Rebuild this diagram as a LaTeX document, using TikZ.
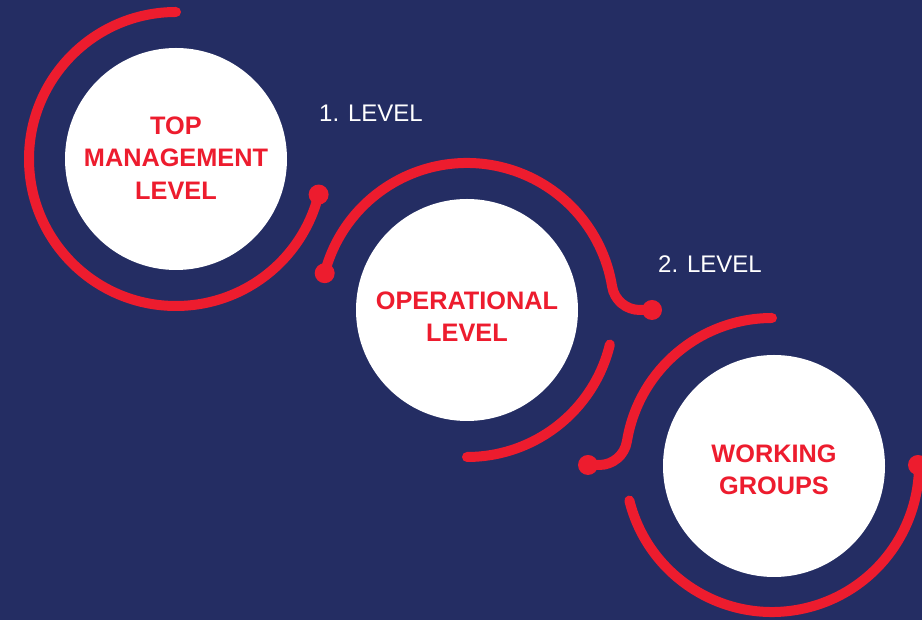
\documentclass[tikz,border=0pt]{standalone}
\usepackage{fontspec}
\setmainfont{Liberation Sans}
\usetikzlibrary{calc}
\definecolor{navy}{RGB}{36,45,99}
\definecolor{hred}{RGB}{237,28,46}
\begin{document}
\begin{tikzpicture}[x=1pt,y=1pt,
  disc/.style={circle, fill=white, minimum size=222pt, inner sep=0pt},
  lbl/.style={text=hred, font=\bfseries\fontsize{25.3}{32.5}\selectfont, align=center, inner sep=0pt},
  ring/.style={draw=hred, line width=10pt, line cap=round},
  dotmark/.style={circle, fill=hred, minimum size=20pt, inner sep=0pt},
  lvl/.style={text=white, font=\fontsize{24}{28}\selectfont, anchor=base west, inner sep=0pt}]
\fill[navy] (0,0) rectangle (922,620);
\useasboundingbox (0,0) rectangle (922,620);

% discs
\node[disc] (c1) at (176,461) {};
\node[disc] (c2) at (467,310) {};
\node[disc] (c3) at (774,154) {};
\coordinate (a3) at (772,155);

% labels
\node[lbl] (t1) at ([yshift=1]c1) {TOP\\MANAGEMENT\\LEVEL};
\node[lbl] (t2) at ([yshift=-6.5]c2) {OPERATIONAL\\LEVEL};
\node[lbl] (t3) at ([yshift=-4]c3) {WORKING\\GROUPS};
\node[lvl] (l1) at (319,498) {1. LEVEL};
\node[lvl] (l2) at (658,347) {2. LEVEL};

% dots
\node[dotmark] (d1) at ($(c1)+(346:147)$) {};
\node[dotmark] (d2) at ($(c2)+(165.5:147)$) {};
\node[dotmark] (d3) at (652,310) {};
\node[dotmark] (d4) at (588,155) {};
\node[dotmark] (d5) at ($(a3)+(0:146)$) {};

% rings
\draw[ring] ($(c1)+(90:147)$) arc[start angle=90, end angle=346, radius=147] -- (d1.center);
\draw[ring] (d2.center) arc[start angle=165.5, end angle=9.21, radius=147]
  arc[start angle=189.21, end angle=270, radius=28] -- (d3.center);
\draw[ring] ($(c2)+(-13.6:147)$) arc[start angle=-13.6, end angle=-90, radius=147];
\draw[ring] ($(a3)+(90:147)$) arc[start angle=90, end angle=170.79, radius=147]
  arc[start angle=-9.21, end angle=-90, radius=28] -- (d4.center);
\draw[ring] ($(a3)+(194:147)$) arc[start angle=194, end angle=360, radius=147] -- (d5.center);
\end{tikzpicture}
\end{document}
